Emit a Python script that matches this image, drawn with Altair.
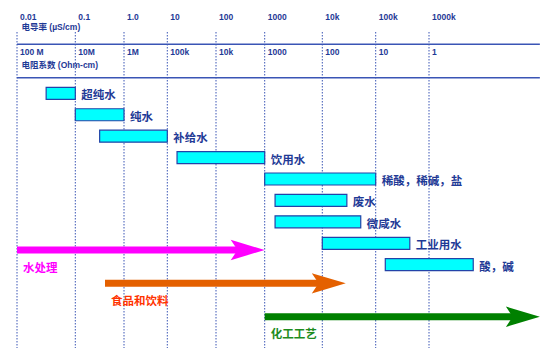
import altair as alt
import pandas as pd

# ---- data (x values are log10 of conductivity in µS/cm) ----
decades = [-2, -1, 0, 1, 2, 3, 4, 5, 6]
cond_labels = ["0.01", "0.1", "1.0", "10", "100", "1000", "10k", "100k", "1000k"]
res_labels = ["100 M", "10M", "1M", "100k", "10k", "1000", "100", "10", "1"]

categories = ["超纯水", "纯水", "补给水", "饮用水", "稀酸，稀碱，盐", "废水", "微咸水", "工业用水", "酸，碱"]
low = [-1.5, -1.0, -0.5, 1.2, 3.0, 3.18, 3.18, 4.0, 5.18]
high = [-1.0, 0.0, 1.0, 3.0, 5.0, 4.46, 4.72, 5.64, 6.83]

arrow_names = ["水处理", "食品和饮料", "化工工艺"]
arrow_start = [-2.0, -0.39, 3.0]
arrow_end = [3.0, 4.44, 8.08]

# ---- styles / layout ----
shaft_colors = ["#FF00FF", "#E46000", "#008000"]
label_colors = ["#FF00FF", "#FF3300", "#1E8C1E"]
BLUE = "#1F3A96"
LINE = "#3A55B5"
FONT = "Liberation Sans, Noto Sans CJK SC"

W, H = 538, 346
xscale = alt.Scale(domain=decades,
                   range=[9, 67.3, 116, 159.3, 208, 256.7, 314.3, 367.7, 421],
                   nice=False, zero=False)
bar_y = alt.Scale(domain=[0, 8], range=[85.3, 256.7], nice=False, zero=False)
arr_y = alt.Scale(domain=[0, 2], range=[242, 308.7], nice=False, zero=False)

grid_df = pd.DataFrame({"d": decades, "cond": cond_labels, "res": res_labels})
bars_df = pd.DataFrame({"name": categories, "lo": low, "hi": high,
                        "row": list(range(len(categories)))})
arr_df = pd.DataFrame({"name": arrow_names, "s": arrow_start, "e": arrow_end,
                       "row": list(range(len(arrow_names))),
                       "sc": shaft_colors, "lc": label_colors})
hline_df = pd.DataFrame({"a": [decades[0]], "b": [arrow_end[-1]]})

base_grid = alt.Chart(grid_df)

gridlines = base_grid.mark_rule(color=LINE, strokeWidth=1, strokeDash=[1.5, 1.5]).encode(
    x=alt.X("d:Q", scale=xscale, axis=None),
    y=alt.value(24), y2=alt.value(340))

hl1 = alt.Chart(hline_df).mark_rule(color=LINE, strokeWidth=1.6).encode(
    x=alt.X("a:Q", scale=xscale, axis=None), x2="b:Q", y=alt.value(36.3))
hl2 = alt.Chart(hline_df).mark_rule(color=LINE, strokeWidth=1.6).encode(
    x=alt.X("a:Q", scale=xscale, axis=None), x2="b:Q", y=alt.value(69.7))

cond_txt = base_grid.mark_text(align="left", baseline="middle", dx=3, font=FONT,
                               fontSize=8.5, fontWeight="bold", color=BLUE).encode(
    x=alt.X("d:Q", scale=xscale, axis=None), y=alt.value(9), text="cond:N")
res_txt = base_grid.mark_text(align="left", baseline="middle", dx=3, font=FONT,
                              fontSize=8.5, fontWeight="bold", color=BLUE).encode(
    x=alt.X("d:Q", scale=xscale, axis=None), y=alt.value(44), text="res:N")

title_df = pd.DataFrame({"d": [decades[0], decades[0]],
                         "t": ["电导率  (µS/cm)", "电阻系数  (Ohm-cm)"],
                         "yy": [19, 57]})
titles = alt.Chart(title_df).mark_text(align="left", baseline="middle", dx=4.5, font=FONT,
                                       fontSize=8.5, fontWeight="bold", color=BLUE).encode(
    x=alt.X("d:Q", scale=xscale, axis=None),
    y=alt.Y("yy:Q", scale=alt.Scale(domain=[0, H], range=[0, H]), axis=None),
    text="t:N")

bars = alt.Chart(bars_df).mark_rect(fill="#00FFFF", stroke="#2343A8", strokeWidth=1.2,
                                    yOffset=-6, y2Offset=6).encode(
    x=alt.X("lo:Q", scale=xscale, axis=None), x2="hi:Q",
    y=alt.Y("row:Q", scale=bar_y, axis=None), y2="row:Q")

bar_labels = alt.Chart(bars_df).mark_text(align="left", baseline="middle", dx=6, dy=3,
                                          font=FONT, fontSize=11.5, fontWeight="bold",
                                          color=BLUE).encode(
    x=alt.X("hi:Q", scale=xscale, axis=None),
    y=alt.Y("row:Q", scale=bar_y, axis=None), text="name:N")

shafts = alt.Chart(arr_df).mark_rule(strokeWidth=7, strokeCap="butt", x2Offset=-20).encode(
    x=alt.X("s:Q", scale=xscale, axis=None), x2="e:Q",
    y=alt.Y("row:Q", scale=arr_y, axis=None),
    color=alt.Color("sc:N", scale=None, legend=None))

heads = alt.Chart(arr_df).mark_point(shape="M 0 0 L -2 -0.6 L -1.6 0 L -2 0.6 Z",
                                     size=1156, filled=True, opacity=1, strokeWidth=0).encode(
    x=alt.X("e:Q", scale=xscale, axis=None),
    y=alt.Y("row:Q", scale=arr_y, axis=None),
    color=alt.Color("sc:N", scale=None, legend=None))

arrow_labels = alt.Chart(arr_df).mark_text(align="left", baseline="middle", dx=6, dy=18.5,
                                           font=FONT, fontSize=11.5, fontWeight="bold").encode(
    x=alt.X("s:Q", scale=xscale, axis=None),
    y=alt.Y("row:Q", scale=arr_y, axis=None),
    text="name:N",
    color=alt.Color("lc:N", scale=None, legend=None))

chart = alt.layer(
    gridlines, hl1, hl2, cond_txt, res_txt, titles,
    bars, bar_labels, shafts, heads, arrow_labels
).resolve_scale(y="independent", color="independent").properties(
    width=W, height=H, padding=0, autosize=alt.AutoSizeParams(type="none")
).configure_view(stroke=None)

chart.save("out.html", embed_options={"renderer": "svg", "actions": False})
